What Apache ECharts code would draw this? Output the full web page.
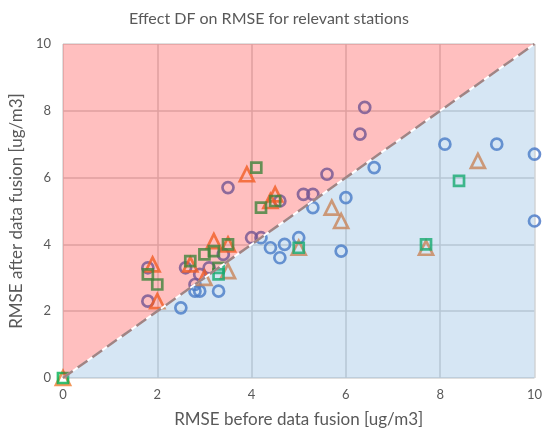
<html>
    <head>
        <meta charset="utf-8">
        <script src="https://cdn.jsdelivr.net/npm/echarts@6/dist/echarts.min.js"></script>
        <style>
            html, body { margin: 0; padding: 0; background: #fff; }
            #main { width: 545px; height: 433px; }
        </style>
    </head>
    <body>
        <div id="main"></div>
        <script>
            // RMSE before / after data fusion
            var circlePoints = [
                [2.5, 2.1], [2.8, 2.6], [2.9, 2.6], [3.3, 2.6], [4.4, 3.9], [4.6, 3.6],
                [4.7, 4.0], [5.0, 4.2], [5.3, 5.1], [5.9, 3.8], [6.0, 5.4], [6.6, 6.3],
                [8.1, 7.0], [9.2, 7.0], [10.0, 6.7], [10.0, 4.7],
                [1.8, 3.3], [1.8, 2.3], [2.6, 3.3], [2.8, 2.8], [2.9, 3.1], [3.1, 3.3],
                [3.4, 3.7], [3.5, 5.7], [4.0, 4.2], [4.2, 4.2], [4.6, 5.3], [5.1, 5.5],
                [5.3, 5.5], [5.6, 6.1], [6.3, 7.3], [6.4, 8.1]
            ];
            var trianglePoints = [
                [0, 0], [1.9, 3.4], [2.0, 2.3], [2.7, 3.4], [3.2, 4.1], [3.5, 4.0],
                [3.9, 6.1], [4.4, 5.3], [4.5, 5.5], [3.0, 3.0], [3.5, 3.2], [5.0, 3.9],
                [5.7, 5.1], [5.9, 4.7], [7.7, 3.9], [8.8, 6.5]
            ];
            var squarePoints = [
                [0, 0], [1.8, 3.1], [2.0, 2.8], [2.7, 3.5], [3.0, 3.7], [3.2, 3.8],
                [3.5, 4.0], [3.3, 3.3], [3.3, 3.1], [4.1, 6.3], [4.2, 5.1], [4.5, 5.3],
                [5.0, 3.9], [7.7, 4.0], [8.4, 5.9]
            ];
            var identityLine = [[0, 0], [10, 10]];
            var worseRegion = [[0, 0], [10, 10], [0, 10]];
            var betterRegion = [[0, 0], [10, 0], [10, 10]];

            var textColor = '#595959';
            var fontFamily = 'Lato, "Open Sans", sans-serif';

            function polygonSeries(points, color) {
                return {
                    type: 'custom',
                    z: 3,
                    silent: true,
                    data: [0],
                    renderItem: function (params, api) {
                        return {
                            type: 'polygon',
                            shape: { points: points.map(function (p) { return api.coord(p); }) },
                            style: { fill: color }
                        };
                    }
                };
            }

            function hollow(color, symbol, size, data) {
                return {
                    type: 'scatter',
                    z: 2,
                    clip: false,
                    symbol: symbol,
                    symbolSize: size,
                    data: data,
                    itemStyle: { color: 'rgba(0,0,0,0)', borderColor: color, borderWidth: 2.7 }
                };
            }

            var chart = echarts.init(document.getElementById('main'));

            chart.setOption({
                animation: false,
                textStyle: { fontFamily: fontFamily },
                title: {
                    text: 'Effect DF on RMSE for relevant stations',
                    left: 124,
                    top: 6,
                    textStyle: { fontSize: 16, fontWeight: 'normal', color: textColor, fontFamily: fontFamily }
                },
                grid: { left: 62, right: 8, top: 44, bottom: 52 },
                xAxis: {
                    type: 'value',
                    min: 0, max: 10, interval: 2,
                    name: 'RMSE before data fusion [ug/m3]',
                    nameLocation: 'middle',
                    nameGap: 33,
                    nameTextStyle: { fontSize: 17, color: textColor },
                    axisLine: { show: false },
                    axisTick: { show: false },
                    axisLabel: { color: textColor, fontSize: 13, margin: 10 },
                    splitLine: { show: true, lineStyle: { color: '#d4d4d4', width: 1.5 } }
                },
                yAxis: {
                    type: 'value',
                    min: 0, max: 10, interval: 2,
                    name: 'RMSE after data fusion [ug/m3]',
                    nameLocation: 'middle',
                    nameGap: 31,
                    nameTextStyle: { fontSize: 17, color: textColor },
                    axisLine: { show: false },
                    axisTick: { show: false },
                    axisLabel: { color: textColor, fontSize: 13, margin: 12 },
                    splitLine: { show: true, lineStyle: { color: '#d4d4d4', width: 1.5 } }
                },
                series: [
                    hollow('#4472C4', 'circle', 11, circlePoints),
                    hollow('#ED7D31', 'triangle', 14, trianglePoints),
                    hollow('#00B050', 'rect', 10, squarePoints),
                    polygonSeries(worseRegion, 'rgba(255,0,0,0.25)'),
                    polygonSeries(betterRegion, 'rgba(91,155,213,0.25)'),
                    {
                        type: 'line',
                        z: 4,
                        silent: true,
                        symbol: 'none',
                        data: identityLine,
                        lineStyle: { color: '#ffffff', width: 2 }
                    },
                    {
                        type: 'line',
                        z: 5,
                        silent: true,
                        symbol: 'none',
                        data: identityLine,
                        lineStyle: { color: '#a08484', width: 2.5, type: [12, 6] }
                    }
                ]
            });
        </script>
    </body>
</html>
